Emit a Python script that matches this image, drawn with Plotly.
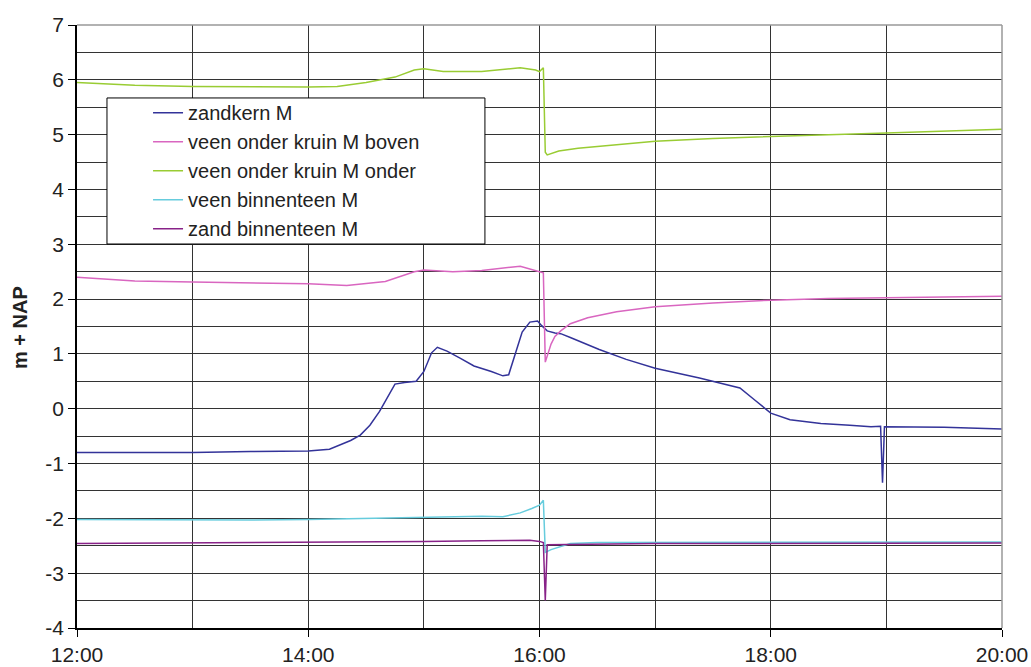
import plotly.graph_objects as go

# ---- data (time "HH:MM", value in m + NAP) ----
zandkern_t = ["12:00","13:00","13:30","14:00","14:11","14:17","14:22","14:27","14:32","14:37","14:41","14:45",
              "14:50","14:56","15:00","15:04","15:07","15:12","15:19","15:26","15:35","15:41","15:44","15:46",
              "15:48","15:51","15:55","15:59","16:01","16:04","16:08","16:11","16:16","16:31","16:45","17:00",
              "17:23","17:44","17:52","18:00","18:10","18:26","18:41","18:52","18:57","18:58","18:59","19:30","20:00"]
zandkern_v = [-0.80,-0.80,-0.78,-0.77,-0.74,-0.66,-0.58,-0.48,-0.30,-0.05,0.20,0.45,
              0.48,0.50,0.68,1.02,1.12,1.05,0.92,0.78,0.68,0.60,0.62,0.85,
              1.10,1.40,1.58,1.60,1.52,1.42,1.38,1.37,1.30,1.08,0.90,0.74,
              0.56,0.38,0.15,-0.08,-0.20,-0.27,-0.30,-0.33,-0.32,-1.35,-0.33,-0.34,-0.37]

boven_t = ["12:00","12:30","13:00","13:30","14:00","14:20","14:40","14:55","15:00","15:15","15:30","15:45",
           "15:50","16:00","16:02","16:03","16:04","16:06","16:08","16:11","16:16","16:25","16:40","17:00",
           "17:30","18:00","18:30","19:00","19:30","20:00"]
boven_v = [2.40,2.33,2.31,2.30,2.28,2.25,2.32,2.50,2.53,2.50,2.52,2.58,
           2.60,2.50,2.48,0.85,0.95,1.18,1.32,1.42,1.55,1.66,1.77,1.86,
           1.93,1.98,2.01,2.03,2.04,2.05]

onder_t = ["12:00","12:10","12:30","13:00","13:30","14:00","14:15","14:30","14:45","14:55","15:00","15:10",
           "15:30","15:45","15:50","15:58","16:00","16:02","16:03","16:04","16:10","16:20","16:40","17:00",
           "17:30","18:00","18:30","19:00","19:30","20:00"]
onder_v = [5.95,5.93,5.90,5.88,5.87,5.87,5.88,5.95,6.05,6.18,6.20,6.15,
           6.15,6.20,6.22,6.18,6.15,6.22,4.68,4.63,4.70,4.75,4.82,4.88,
           4.93,4.97,5.00,5.03,5.06,5.10]

veenbt_t = ["12:00","13:00","13:30","14:00","14:30","15:00","15:30","15:41","15:50","15:56","16:00","16:02",
            "16:03","16:06","16:11","16:16","16:30","17:00","18:00","19:00","20:00"]
veenbt_v = [-2.02,-2.03,-2.03,-2.02,-2.00,-1.97,-1.96,-1.97,-1.90,-1.82,-1.76,-1.67,
            -2.62,-2.57,-2.52,-2.46,-2.44,-2.44,-2.44,-2.43,-2.43]

zandbt_t = ["12:00","13:00","14:00","15:00","15:30","15:55","16:00","16:02","16:03","16:04","17:00","18:00",
            "19:00","20:00"]
zandbt_v = [-2.46,-2.45,-2.44,-2.42,-2.41,-2.40,-2.42,-2.44,-3.50,-2.48,-2.46,-2.46,-2.45,-2.45]

series_names = ["zandkern M", "veen onder kruin M boven", "veen onder kruin M onder",
                "veen binnenteen M", "zand binnenteen M"]
series_colors = ["#333399", "#d966c0", "#99cc33", "#66ccdd", "#882288"]

x_tickvals = [12, 14, 16, 18, 20]
x_ticktext = ["12:00", "14:00", "16:00", "18:00", "20:00"]
y_tickvals = [-4, -3, -2, -1, 0, 1, 2, 3, 4, 5, 6, 7]
y_ticktext = ["-4", "-3", "-2", "-1", "0", "1", "2", "3", "4", "5", "6", "7"]


def to_hours(ts):
    out = []
    for s in ts:
        h, m = s.split(":")
        out.append(int(h) + int(m) / 60.0)
    return out


series = [(zandkern_t, zandkern_v), (boven_t, boven_v), (onder_t, onder_v),
          (veenbt_t, veenbt_v), (zandbt_t, zandbt_v)]

fig = go.Figure()
for (t, v), name, col in zip(series, series_names, series_colors):
    fig.add_trace(go.Scatter(x=to_hours(t), y=v, mode="lines", name=name,
                             line=dict(color=col, width=1.5)))

font_family = "Liberation Sans, Arial, sans-serif"

fig.update_layout(
    width=1031, height=667,
    margin=dict(l=77, r=29, t=25, b=39),
    plot_bgcolor="white", paper_bgcolor="white",
    font=dict(family=font_family, size=21, color="#222"),
    showlegend=True,
    legend=dict(x=0.0768, y=0.887, xanchor="left", yanchor="top",
                bgcolor="rgba(0,0,0,0)", borderwidth=0,
                font=dict(family=font_family, size=20, color="#222")),
    xaxis=dict(range=[12, 20], tickmode="array", tickvals=x_tickvals, ticktext=x_ticktext,
               automargin=False,
               showgrid=True, gridcolor="#333", gridwidth=1,
               minor=dict(tick0=12, dtick=1, showgrid=True, gridcolor="#333", gridwidth=1, ticks=""),
               ticks="outside", ticklen=7, tickcolor="#000",
               showline=True, linecolor="#000", linewidth=1.5,
               zeroline=False, tickfont=dict(size=21, color="#222")),
    yaxis=dict(range=[-4, 7], tickmode="array", tickvals=y_tickvals, ticktext=y_ticktext,
               automargin=False,
               showgrid=True, gridcolor="#333", gridwidth=1,
               minor=dict(tick0=-4, dtick=0.5, showgrid=True, gridcolor="#333", gridwidth=1, ticks=""),
               ticks="outside", ticklen=7, tickcolor="#000",
               showline=True, linecolor="#000", linewidth=1.5,
               zeroline=False, tickfont=dict(size=21, color="#222")),
    shapes=[
        dict(type="rect", xref="paper", yref="paper", x0=0.0324, x1=0.441, y0=0.6368, y1=0.879,
             line=dict(color="#000", width=1), fillcolor="white", layer="above"),
        dict(type="line", xref="paper", yref="paper", x0=0, x1=1, y0=1, y1=1,
             line=dict(color="#999", width=1.5), layer="above"),
        dict(type="line", xref="paper", yref="paper", x0=1, x1=1, y0=0, y1=1,
             line=dict(color="#999", width=1.5), layer="above"),
    ],
    annotations=[
        dict(text="<b>m + NAP</b>", xref="paper", yref="paper", x=-0.0616, y=0.4975,
             textangle=-90, showarrow=False, xanchor="center", yanchor="middle",
             font=dict(family=font_family, size=20, color="#222")),
    ],
)

fig.write_html("out.html")
